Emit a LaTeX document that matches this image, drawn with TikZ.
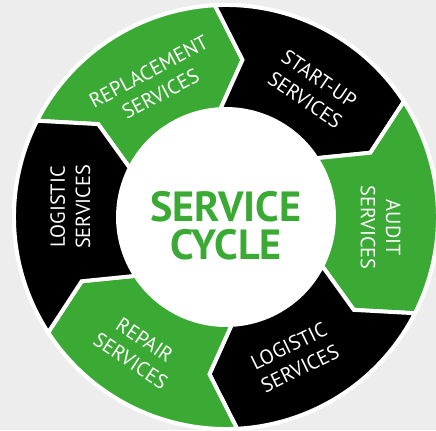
\documentclass[tikz,border=0pt]{standalone}
\usepackage{fontspec}
\setmainfont{PT Sans}
\usepackage{tikz}
\definecolor{cyclegreen}{RGB}{58,170,53}
\definecolor{pagegray}{RGB}{237,237,237}

\begin{document}
\begin{tikzpicture}[scale=0.025]
\tikzstyle{greenseg}=[fill=cyclegreen,draw=white,line width=2.8pt]
\tikzstyle{blackseg}=[fill=black,draw=white,line width=2.8pt]
\tikzstyle{seglabel}=[text=white,align=center,font=\fontsize{14.5}{18}\selectfont]
\tikzstyle{centertext}=[text=cyclegreen,align=center,font=\bfseries\fontsize{30}{27}\selectfont]
\fill[pagegray] (-226,-213) rectangle (210,217);
\useasboundingbox (-226,-213) rectangle (210,217);
\fill[white] (0,0) circle[radius=214];
\draw[greenseg] (153:212) arc[start angle=153,end angle=93,radius=212] -- (84:158) -- (93:108) arc[start angle=93,end angle=153,radius=108] -- (144:158) -- cycle;
\draw[blackseg] (93:212) arc[start angle=93,end angle=33,radius=212] -- (24:158) -- (33:108) arc[start angle=33,end angle=93,radius=108] -- (84:158) -- cycle;
\draw[greenseg] (33:212) arc[start angle=33,end angle=-27,radius=212] -- (-36:158) -- (-27:108) arc[start angle=-27,end angle=33,radius=108] -- (24:158) -- cycle;
\draw[blackseg] (-27:212) arc[start angle=-27,end angle=-87,radius=212] -- (-96:158) -- (-87:108) arc[start angle=-87,end angle=-27,radius=108] -- (-36:158) -- cycle;
\draw[greenseg] (-87:212) arc[start angle=-87,end angle=-147,radius=212] -- (-156:158) -- (-147:108) arc[start angle=-147,end angle=-87,radius=108] -- (-96:158) -- cycle;
\draw[blackseg] (213:212) arc[start angle=213,end angle=153,radius=212] -- (144:158) -- (153:108) arc[start angle=153,end angle=213,radius=108] -- (204:158) -- cycle;
\node [centertext] (cycle) at (0,-9) {SERVICE\\CYCLE};
\node [seglabel,rotate=28] (replacement) at (118:152) {REPLACEMENT\\SERVICES};
\node [seglabel,rotate=-34] (startup) at (56:154) {START-UP\\SERVICES};
\node [seglabel,rotate=-90] (audit) at (-4:155) {AUDIT\\SERVICES};
\node [seglabel,rotate=26] (logisticright) at (-64:156) {LOGISTIC\\SERVICES};
\node [seglabel,rotate=-33.5] (repair) at (236.5:160) {REPAIR\\SERVICES};
\node [seglabel,rotate=90] (logisticleft) at (176.3:156) {LOGISTIC\\SERVICES};
\end{tikzpicture}
\end{document}
